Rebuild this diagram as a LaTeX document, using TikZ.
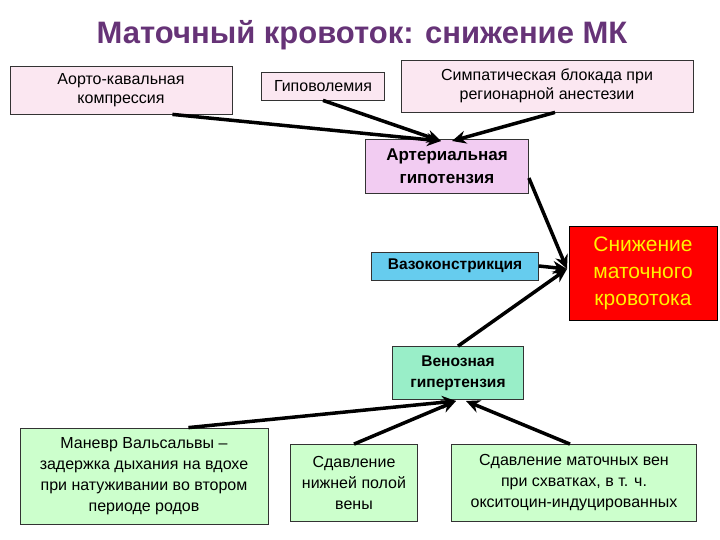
\documentclass[tikz,border=0pt]{standalone}
\usepackage{fontspec}
\setmainfont{Liberation Sans}
\usetikzlibrary{arrows.meta}
\definecolor{pinkf}{HTML}{FBE7F1}
\definecolor{lavf}{HTML}{F2CCF2}
\definecolor{bluef}{HTML}{66CCEE}
\definecolor{greenf}{HTML}{CCFFCC}
\definecolor{greenv}{HTML}{99EEC8}
\definecolor{titlec}{HTML}{663377}
\begin{document}
\begin{tikzpicture}[x=1pt,y=-1pt,
 box/.style={draw=black!80,line width=0.8pt,align=center,inner sep=0pt,font=\fontsize{16}{19}\selectfont},
 arr/.style={line width=3.5pt,-{Stealth[length=14pt,width=13pt]}}]
\useasboundingbox (0,0) rectangle (720,540);
\node[font=\fontsize{31}{34}\selectfont\bfseries,text=titlec] (t) at (362,35) {Маточный кровоток: снижение МК};
\node[box,fill=pinkf,minimum width=222,minimum height=48] (a) at (121,90) {Аорто-кавальная\\компрессия};
\node[box,fill=pinkf,minimum width=123,minimum height=28] (b) at (323,86) {Гиповолемия};
\node[box,fill=pinkf,minimum width=292,minimum height=52] (c) at (547,86) {Симпатическая блокада при\\регионарной анестезии};
\node[box,fill=lavf,minimum width=163,minimum height=54,font=\fontsize{17}{23}\selectfont\bfseries] (d) at (447,166) {Артериальная\\гипотензия};
\node[box,fill=bluef,minimum width=167,minimum height=28,font=\fontsize{15.5}{18}\selectfont\bfseries] (e) at (455,266) {Вазоконстрикция};
\node[box,fill=red,draw=black,minimum width=148,minimum height=94,text=yellow,font=\fontsize{21}{27}\selectfont] (f) at (643,273) {Снижение\\маточного\\кровотока};
\node[box,fill=greenv,minimum width=131,minimum height=53,font=\fontsize{15.5}{21}\selectfont\bfseries] (g) at (458,373) {Венозная\\гипертензия};
\node[box,fill=greenf,minimum width=248,minimum height=96,font=\fontsize{16}{21}\selectfont] (h) at (144,476) {Маневр Вальсальвы –\\задержка дыхания на вдохе\\при натуживании во втором\\периоде родов};
\node[box,fill=greenf,minimum width=127,minimum height=77,font=\fontsize{16}{21}\selectfont] (i) at (354,483) {Сдавление\\нижней полой\\вены};
\node[box,fill=greenf,minimum width=245,minimum height=77,font=\fontsize{16}{21}\selectfont] (j) at (574,483) {Сдавление маточных вен\\при схватках, в т. ч.\\окситоцин-индуцированных};
\coordinate (d1) at (441,141);
\coordinate (d2) at (452,141);
\coordinate (f1) at (567,269);
\coordinate (g1) at (456,401);
\coordinate (g2) at (466,401);
\draw[arr] (a.south east) ++(-60,0) -- (d1);
\draw[arr] (b.south) -- (d1);
\draw[arr] ([xshift=8]c.south) -- (d2);
\draw[arr] ([yshift=-12]d.east) -- (f1);
\draw[arr] (e.east) -- (f1);
\draw[arr] (g.north) -- (f1);
\draw[arr] ([xshift=-80]h.north east) -- (g1);
\draw[arr] (i.north) -- (g1);
\draw[arr] ([xshift=-4]j.north) -- (g2);
\end{tikzpicture}
\end{document}
